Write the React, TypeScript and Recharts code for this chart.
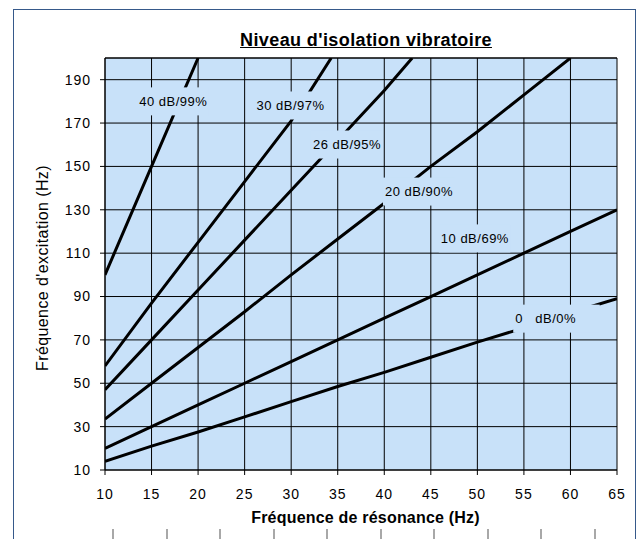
import React from 'react';
import { LineChart, Line, XAxis, YAxis, CartesianGrid, ReferenceLine, Scatter } from 'recharts';

// Fréquence de résonance (Hz) -> Fréquence d'excitation (Hz)
const line40dB = [
  { x: 10, y: 100 },
  { x: 15, y: 150 },
  { x: 20, y: 200 },
];
const line30dB = [
  { x: 10, y: 58 },
  { x: 15, y: 87 },
  { x: 20, y: 115 },
  { x: 25, y: 143 },
  { x: 30, y: 171 },
  { x: 34.3, y: 200 },
];
const line26dB = [
  { x: 10, y: 47 },
  { x: 15, y: 70 },
  { x: 20, y: 93 },
  { x: 25, y: 116 },
  { x: 30, y: 139 },
  { x: 35, y: 162 },
  { x: 40, y: 185 },
  { x: 43, y: 200 },
];
const line20dB = [
  { x: 10, y: 33.5 },
  { x: 15, y: 50 },
  { x: 20, y: 66.5 },
  { x: 25, y: 83 },
  { x: 30, y: 100 },
  { x: 35, y: 116.5 },
  { x: 40, y: 133 },
  { x: 45, y: 150 },
  { x: 50, y: 166 },
  { x: 55, y: 183 },
  { x: 60, y: 200 },
];
const line10dB = [
  { x: 10, y: 20 },
  { x: 15, y: 30 },
  { x: 20, y: 40 },
  { x: 25, y: 50 },
  { x: 30, y: 60 },
  { x: 35, y: 70 },
  { x: 40, y: 80 },
  { x: 45, y: 90 },
  { x: 50, y: 100 },
  { x: 55, y: 110 },
  { x: 60, y: 120 },
  { x: 65, y: 130 },
];
const line0dB = [
  { x: 10, y: 14 },
  { x: 15, y: 21 },
  { x: 20, y: 27.5 },
  { x: 25, y: 34.5 },
  { x: 30, y: 41.5 },
  { x: 35, y: 48.5 },
  { x: 40, y: 55 },
  { x: 45, y: 62 },
  { x: 50, y: 69 },
  { x: 55, y: 75.5 },
  { x: 60, y: 82.5 },
  { x: 65, y: 89 },
];

const curveLabels = [
  { x: 17.3, y: 180, text: '40 dB/99%' },
  { x: 29.9, y: 178.1, text: '30 dB/97%' },
  { x: 35.96, y: 160.1, text: '26 dB/95%' },
  { x: 43.7, y: 138.4, text: '20 dB/90%' },
  { x: 49.7, y: 116.8, text: '10 dB/69%' },
  { x: 58.5, y: 79.8, text: '0\u00a0\u00a0\u00a0dB/0%\u00a0\u00a0' },
];

const xTicks = [10, 15, 20, 25, 30, 35, 40, 45, 50, 55, 60, 65];
const yTicks = [10, 30, 50, 70, 90, 110, 130, 150, 170, 190];

const series = [line40dB, line30dB, line26dB, line20dB, line10dB, line0dB];

const FONT = 'Arial, "Liberation Sans", sans-serif';
const PLOT_BG = '#C8E1F9';

const LabelShape = (props: any) => {
  const { cx, cy, payload } = props;
  if (cx == null || cy == null) return null;
  const text: string = payload.text;
  const w = text.length * 7.5 + 4;
  const h = 28;
  return (
    <g>
      <rect x={cx - w / 2} y={cy - h / 2} width={w} height={h} fill={PLOT_BG} />
      <text
        x={cx - w / 2 + 2}
        y={cy}
        dy="0.35em"
        textAnchor="start"
        fontSize={13}
        letterSpacing={0.5}
        fontFamily={FONT}
        fill="#000"
      >
        {text}
      </text>
    </g>
  );
};

const rulerMarks = [0, 1, 2, 3, 4, 5, 6, 7, 8, 9];

export default function App() {
  return (
    <div style={{ position: 'absolute', left: 0, top: 0, width: 644, height: 539, background: '#fff', overflow: 'hidden', fontFamily: FONT }}>
      <div
        style={{
          position: 'absolute',
          left: 13,
          top: 9,
          width: 623,
          height: 560,
          border: '1px solid #36598a',
          boxSizing: 'border-box',
        }}
      />
      <div
        style={{
          position: 'absolute',
          left: 366,
          top: 31,
          transform: 'translateX(-50%)',
          fontSize: 18,
          lineHeight: '18px',
          fontWeight: 'bold',
          textDecoration: 'underline',
          whiteSpace: 'nowrap',
          letterSpacing: 0.4,
        }}
      >
        Niveau d'isolation vibratoire
      </div>
      <div
        style={{
          position: 'absolute',
          left: 365.5,
          top: 510,
          transform: 'translateX(-50%)',
          fontSize: 16,
          lineHeight: '16px',
          fontWeight: 'bold',
          whiteSpace: 'nowrap',
          letterSpacing: 0.2,
        }}
      >
        Fréquence de résonance (Hz)
      </div>
      <div
        style={{
          position: 'absolute',
          left: 43,
          top: 268,
          transform: 'translate(-50%, -50%) rotate(-90deg)',
          fontSize: 16,
          lineHeight: '16px',
          whiteSpace: 'nowrap',
          letterSpacing: 0.4,
        }}
      >
        Fréquence d'excitation (Hz)
      </div>
      {rulerMarks.map((i) => (
        <div
          key={i}
          style={{ position: 'absolute', left: 112 + i * 53.5, top: 529, width: 2, height: 12, background: '#a8a8a8' }}
        />
      ))}
      <div style={{ position: 'absolute', left: 0, top: 0 }}>
        <LineChart width={644} height={539} margin={{ top: 58, right: 27, bottom: 39, left: 45 }}>
          <CartesianGrid stroke="#000" strokeWidth={1} fill={PLOT_BG} fillOpacity={1} />
          <XAxis
            type="number"
            dataKey="x"
            domain={[10, 65]}
            ticks={xTicks}
            interval={0}
            height={30}
            tickSize={5}
            tickMargin={14}
            stroke="#000"
            tickLine={{ stroke: '#000' }}
            axisLine={{ stroke: '#000' }}
            tick={{ fill: '#000', fontSize: 14, fontFamily: FONT, letterSpacing: 1 }}
            allowDataOverflow
          />
          <YAxis
            type="number"
            domain={[10, 200]}
            ticks={yTicks}
            interval={0}
            width={60}
            tickSize={5}
            tickMargin={9}
            stroke="#000"
            tickLine={{ stroke: '#000' }}
            axisLine={{ stroke: '#000' }}
            tick={{ fill: '#000', fontSize: 14, fontFamily: FONT, letterSpacing: 1 }}
            allowDataOverflow
          />
          <ReferenceLine y={200} stroke="#000" strokeWidth={1} />
          {series.map((d, i) => (
            <Line
              key={i}
              data={d}
              dataKey="y"
              type="linear"
              stroke="#000"
              strokeWidth={3}
              dot={false}
              activeDot={false}
              isAnimationActive={false}
            />
          ))}
          <Scatter data={curveLabels} dataKey="y" shape={LabelShape} isAnimationActive={false} />
        </LineChart>
      </div>
    </div>
  );
}
